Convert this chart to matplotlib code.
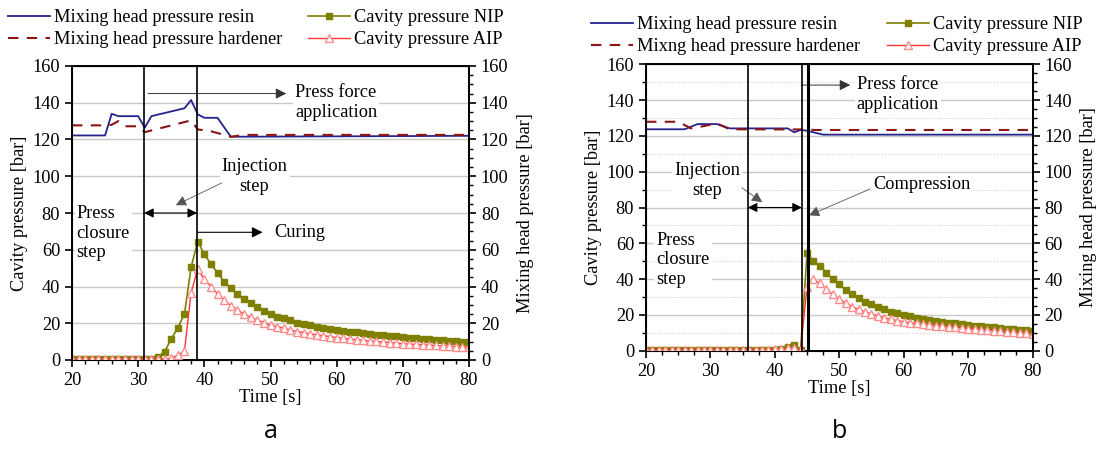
import numpy as np
import matplotlib
matplotlib.use('Agg')
import matplotlib.pyplot as plt
from matplotlib.ticker import MultipleLocator

plt.rcParams['font.family'] = ['Liberation Serif', 'DejaVu Serif']
plt.rcParams['font.size'] = 13.2

# time axis, one sample per second
time = np.arange(20, 81)

# ---- panel a ----
resin_a_t = [20, 25, 26, 27, 30, 31, 32, 37, 38, 39, 40, 42, 44, 80]
resin_a_v = [122.2, 122.2, 134, 132.7, 132.7, 126.4, 132.7, 137, 141.5, 133.7, 131.8, 131.8, 121.5, 122]
hard_a_t = [20, 25, 26, 27, 28, 30, 31, 38, 39, 41, 44, 46, 80]
hard_a_v = [127.7, 127.7, 128, 130, 127.2, 127.2, 124, 130.4, 125.5, 124.5, 121.5, 122.5, 122.5]
nip_a = [0.5] * 13 + [
    1.8, 4.5, 11.5, 17.6, 25.1, 50.5, 64.4, 57.6, 52.2, 47.3, 42.7, 39.1, 36.0, 33.3, 30.9, 28.7,
    26.9, 25.3, 23.6, 22.7, 21.5, 20.4, 19.5, 18.8, 18.1, 17.5, 16.9, 16.4, 15.9, 15.4, 15.0, 14.6,
    14.2, 13.8, 13.5, 13.1, 12.8, 12.5, 12.2, 11.9, 11.6, 11.3, 11.0, 10.7, 10.5, 10.2, 10.0, 9.7]
aip_a = [0.5] * 15 + [
    1.0, 2.5, 5.0, 36.7, 49.5, 44.0, 40.0, 36.0, 32.7, 29.6, 27.3, 25.1, 23.3, 21.8, 20.4, 19.1,
    18.2, 17.3, 16.4, 15.5, 14.9, 14.3, 13.7, 13.2, 12.7, 12.2, 11.8, 11.4, 11.0, 10.7, 10.4, 10.1,
    9.8, 9.5, 9.2, 8.9, 8.7, 8.5, 8.3, 8.1, 7.9, 7.7, 7.5, 7.3, 7.1, 7.0]
vlines_a = [30.9, 38.9]

# ---- panel b ----
resin_b_t = [20, 26, 28, 31, 33, 42, 43, 44, 45, 46, 47.5, 80]
resin_b_v = [123.7, 123.7, 126.6, 126.6, 124.2, 124.2, 122, 123.3, 122.9, 122, 120.7, 120.7]
hard_b_t = [20, 25, 27, 29, 31, 33, 44, 45, 46, 80]
hard_b_v = [127.9, 127.9, 124.2, 125.5, 127, 123.7, 123.6, 123.8, 123.3, 123.3]
nip_b = [0.5] * 21 + [
    1.0, 2.2, 3.0, 0.5, 54.4, 50.1, 47.3, 43.6, 39.9, 37.1, 33.9, 31.5, 29.3, 27.2, 25.9, 24.2,
    23.1, 21.8, 20.9, 19.9, 19.2, 18.4, 17.9, 17.3, 16.8, 16.2, 15.7, 15.3, 14.9, 14.5, 14.0, 13.6,
    13.2, 13.0, 12.7, 12.3, 12.0, 11.7, 11.4, 11.1]
aip_b = [0.5] * 20 + [
    0.8, 1.2, 1.6, 1.5, 0.5, 35.8, 39.9, 37.6, 34.3, 31.5, 28.7, 26.8, 24.6, 23.1, 21.8, 20.5,
    19.4, 18.4, 17.5, 16.8, 16.2, 15.7, 15.2, 14.8, 14.4, 14.0, 13.6, 13.3, 13.0, 12.7, 12.4, 12.1,
    11.8, 11.5, 11.2, 10.9, 10.6, 10.3, 10.0, 9.7, 9.4]
vlines_b = [35.8, 44.2, 45.1]

BLUE = '#24248f'
DRED = '#8b1515'
OLIVE = '#7f7f00'
RED = '#ff3434'
PINK = '#ff8c8c'

WBOX = dict(facecolor='white', edgecolor='none', pad=1.5)


def panel(fig, rect, resin, hard, nip, aip, xminor, ygrid_minor, legend_xy, hard_label, colsp):
    ax = fig.add_axes(rect)
    ax.set_xlim(20, 80)
    ax.set_ylim(0, 160)
    ax.plot(resin[0], resin[1], color=BLUE, lw=1.3, label='Mixing head pressure resin', zorder=4)
    ax.plot(hard[0], hard[1], color=DRED, lw=1.5, ls=(0, (5, 4)), label=hard_label, zorder=4)
    ax.plot(time, nip, color=OLIVE, lw=1.2, marker='s', ms=5, mec=OLIVE, mfc=OLIVE,
            label='Cavity pressure NIP', zorder=5)
    ax.plot(time, aip, color=RED, lw=1.0, marker='^', ms=6, mec=PINK, mfc='white', mew=1.0,
            label='Cavity pressure AIP', zorder=5)

    ax.set_xticks(range(20, 81, 10))
    ax.xaxis.set_minor_locator(MultipleLocator(xminor))
    ax.set_yticks(range(0, 161, 20))
    ax.grid(axis='y', which='major', color='#c8c8c8', lw=1.0)
    if ygrid_minor:
        # panel b: left minor ticks and dotted minor grid every 10 bar
        ax.yaxis.set_minor_locator(MultipleLocator(10))
        ax.grid(axis='y', which='minor', color='#d0d0d0', lw=0.8, ls=':')
    ax.tick_params(which='major', direction='out', length=5, width=1.2)
    ax.tick_params(which='minor', direction='out', length=3, width=1.0)
    for s in ax.spines.values():
        s.set_linewidth(1.4)
    ax.set_xlabel('Time [s]', labelpad=0)
    ax.set_ylabel('Cavity pressure [bar]', labelpad=3)

    ax2 = ax.twinx()
    ax2.set_ylim(0, 160)
    ax2.set_yticks(range(0, 161, 20))
    ax2.yaxis.set_minor_locator(MultipleLocator(5))
    ax2.tick_params(which='major', direction='out', length=5, width=1.2)
    ax2.tick_params(which='minor', direction='out', length=3, width=1.0)
    ax2.spines['right'].set_linewidth(1.4)
    ax2.set_ylabel('Mixing head pressure [bar]', labelpad=6)

    h, l = ax.get_legend_handles_labels()
    fig.legend(h, l, loc='upper left', bbox_to_anchor=legend_xy, ncol=2, frameon=False,
               borderpad=0, borderaxespad=0, handlelength=2.3, handletextpad=0.2,
               labelspacing=0.28, columnspacing=colsp, fontsize=13.2)
    return ax


fig = plt.figure(figsize=(10.97, 4.5), dpi=100)

# panel a
ax = panel(fig, [72 / 1097, 90 / 450, 397 / 1097, 294 / 450],
           (resin_a_t, resin_a_v), (hard_a_t, hard_a_v), nip_a, aip_a,
           2, False, (8 / 1097, 1 - 9 / 450), 'Mixing head pressure hardener', 1.4)
for v in vlines_a:
    ax.axvline(v, color='black', lw=1.2, zorder=6)
ax.annotate('', xy=(52.8, 145), xytext=(31.1, 145),
            arrowprops=dict(arrowstyle='-|>', color='#333333', lw=0.7, mutation_scale=16))
ax.text(53.7, 140, 'Press force\napplication', ha='left', va='center', bbox=WBOX, zorder=3)
ax.text(47.6, 100, 'Injection\nstep', ha='center', va='center', bbox=WBOX, zorder=3)
ax.annotate('', xy=(35.3, 83.6), xytext=(43, 97),
            arrowprops=dict(arrowstyle='-|>', color='#555555', lw=0.6, mutation_scale=16))
ax.annotate('', xy=(38.9, 80), xytext=(30.9, 80),
            arrowprops=dict(arrowstyle='<|-|>', color='black', lw=0.8, mutation_scale=14,
                            shrinkA=0, shrinkB=0))
ax.text(20.7, 69, 'Press\nclosure\nstep', ha='left', va='center', bbox=WBOX, zorder=3)
ax.annotate('', xy=(48.8, 69.5), xytext=(39, 69.5),
            arrowprops=dict(arrowstyle='-|>', color='black', lw=0.8, mutation_scale=16,
                            shrinkA=0, shrinkB=0))
ax.text(50.5, 69.5, 'Curing', ha='left', va='center', bbox=WBOX, zorder=3)

# panel b
bx = panel(fig, [646 / 1097, 99.3 / 450, 386.5 / 1097, 286.4 / 450],
           (resin_b_t, resin_b_v), (hard_b_t, hard_b_v), nip_b, aip_b,
           2.5, True, (591 / 1097, 1 - 16 / 450), 'Mixng head pressure hardener', 1.5)
for v, w in zip(vlines_b, [1.2, 1.2, 2.2]):
    bx.axvline(v, color='black', lw=w, zorder=6)
bx.annotate('', xy=(51.7, 148.4), xytext=(44.1, 148.4),
            arrowprops=dict(arrowstyle='-|>', color='#333333', lw=0.7, mutation_scale=16,
                            shrinkA=0, shrinkB=0))
bx.text(52.7, 143, 'Press force\napplication', ha='left', va='center', bbox=WBOX, zorder=3)
bx.text(29.5, 95, 'Injection\nstep', ha='center', va='center', bbox=WBOX, zorder=3)
bx.annotate('', xy=(38.4, 82), xytext=(34.5, 92),
            arrowprops=dict(arrowstyle='-|>', color='#555555', lw=0.6, mutation_scale=16))
bx.annotate('', xy=(44.2, 80), xytext=(35.8, 80),
            arrowprops=dict(arrowstyle='<|-|>', color='black', lw=0.8, mutation_scale=14,
                            shrinkA=0, shrinkB=0))
bx.text(62.9, 93, 'Compression', ha='center', va='center', bbox=WBOX, zorder=3)
bx.annotate('', xy=(44.9, 75), xytext=(55.2, 91),
            arrowprops=dict(arrowstyle='-|>', color='#555555', lw=0.6, mutation_scale=16))
bx.text(21.6, 50.7, 'Press\nclosure\nstep', ha='left', va='center', bbox=WBOX, zorder=3)

fig.text(271 / 1097, 1 - 432 / 450, 'a', ha='center', va='center', fontsize=18,
         family=['Open Sans', 'DejaVu Sans'])
fig.text(839 / 1097, 1 - 432 / 450, 'b', ha='center', va='center', fontsize=18,
         family=['Open Sans', 'DejaVu Sans'])

fig.savefig('out.png', dpi=100, facecolor='white')
